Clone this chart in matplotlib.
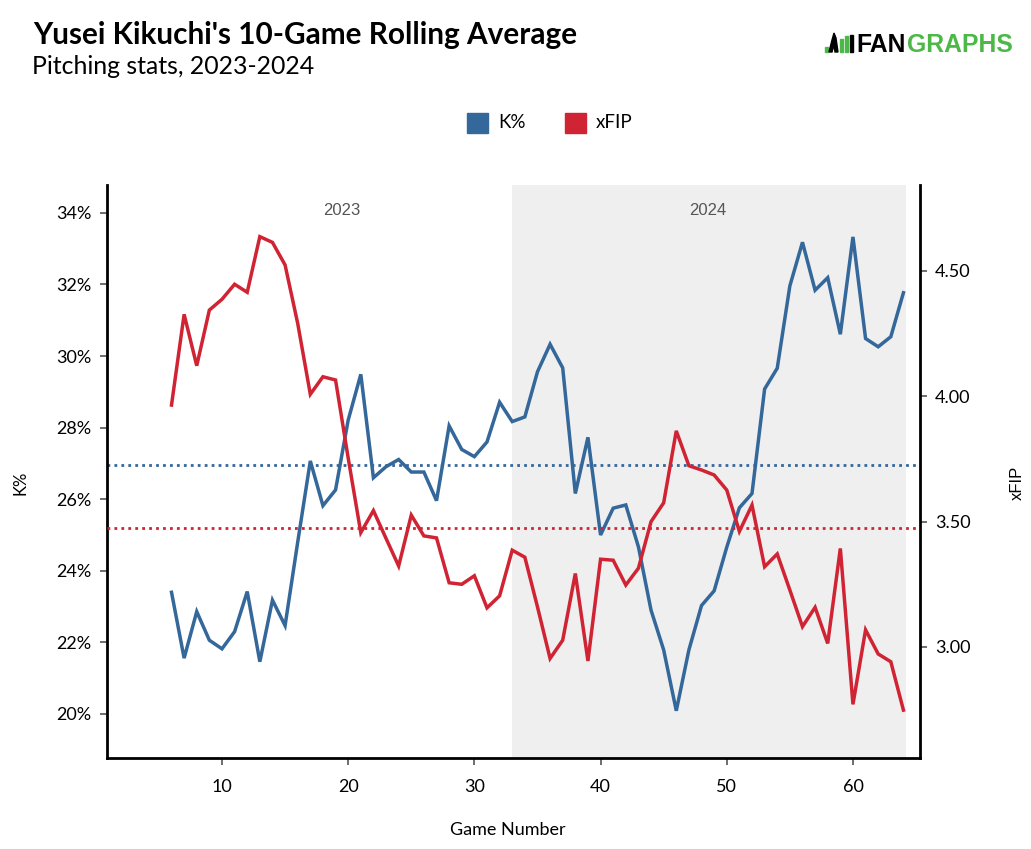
import matplotlib
matplotlib.use("Agg")
import matplotlib.pyplot as plt
from matplotlib.ticker import FuncFormatter, FixedLocator
from matplotlib.patches import Rectangle, Polygon

# ---------------- data ----------------
games = list(range(6, 65))
k_pct = [23.40, 21.56, 22.86, 22.06, 21.82, 22.30, 23.42, 21.46, 23.18, 22.47,
         24.80, 27.07, 25.82, 26.26, 28.21, 29.49, 26.60, 26.91, 27.11, 26.76,
         26.76, 25.96, 28.05, 27.39, 27.19, 27.60, 28.71, 28.17, 28.30, 29.56,
         30.33, 29.67, 26.16, 27.73, 25.00, 25.75, 25.84, 24.67, 22.90, 21.79,
         20.09, 21.79, 23.03, 23.44, 24.66, 25.76, 26.16, 29.08, 29.66, 31.96,
         33.18, 31.84, 32.19, 30.61, 33.33, 30.49, 30.26, 30.54, 31.77]
xfip = [3.965, 4.327, 4.122, 4.344, 4.387, 4.447, 4.415, 4.637, 4.614, 4.524,
        4.291, 4.008, 4.078, 4.065, 3.754, 3.456, 3.544, 3.433, 3.323, 3.526,
        3.443, 3.435, 3.256, 3.250, 3.284, 3.156, 3.204, 3.386, 3.358, 3.160,
        2.954, 3.027, 3.293, 2.944, 3.350, 3.346, 3.247, 3.314, 3.500, 3.575,
        3.862, 3.723, 3.706, 3.686, 3.626, 3.461, 3.566, 3.320, 3.371, 3.227,
        3.081, 3.158, 3.014, 3.393, 2.771, 3.068, 2.972, 2.941, 2.748]
k_mean = 26.96
xfip_mean = 3.476
season_labels = ["2023", "2024"]
season_bounds = [6, 33, 64]
x_ticks = [10, 20, 30, 40, 50, 60]
k_ticks = [20, 22, 24, 26, 28, 30, 32, 34]
xfip_ticks = [3.0, 3.5, 4.0, 4.5]

BLUE = "#34679a"
RED = "#d02333"
SHADE = "#efefef"
GREEN = "#4cb848"
FONT = "Lato"
W, H = 1031, 849


def fx(px):
    return px / W


def fy(py):
    return 1 - py / H


fig = plt.figure(figsize=(10.31, 8.49), dpi=100)
ax = fig.add_axes([0.1038, 0.1072, 0.7885, 0.6749])
ax2 = ax.twinx()

ax.set_xlim(0.89, 65.31)
ax.set_ylim(18.77, 34.78)
ax2.set_ylim(2.557, 4.843)

# season shading + labels
ax.axvspan(season_bounds[1], season_bounds[2] + 0.2, color=SHADE, zorder=0, lw=0)
for i, lab in enumerate(season_labels):
    mid = (season_bounds[i] + season_bounds[i + 1]) / 2
    ax.text(mid, 0.955, lab, transform=ax.get_xaxis_transform(), ha="center",
            va="center", fontsize=12, color="#555555", family="Liberation Sans")

# mean lines
ax.axhline(k_mean, color=BLUE, ls=(0, (1, 1.5)), lw=2, zorder=1)
ax2.axhline(xfip_mean, color=RED, ls=(0, (1, 1.5)), lw=2, zorder=1)

ax.plot(games, k_pct, color=BLUE, lw=2.5, zorder=3, solid_joinstyle="miter")
ax2.plot(games, xfip, color=RED, lw=2.5, zorder=3, solid_joinstyle="miter")

# axes styling
for a in (ax, ax2):
    a.spines["top"].set_visible(False)
    for s in ("left", "right", "bottom"):
        a.spines[s].set_linewidth(2)
        a.spines[s].set_color("black")
ax.spines["right"].set_visible(False)
ax2.spines["left"].set_visible(False)
ax2.spines["bottom"].set_visible(False)

ax.xaxis.set_major_locator(FixedLocator(x_ticks))
ax.yaxis.set_major_locator(FixedLocator(k_ticks))
ax2.yaxis.set_major_locator(FixedLocator(xfip_ticks))
ax.yaxis.set_major_formatter(FuncFormatter(lambda v, p: f"{v:.0f}%"))
ax2.yaxis.set_major_formatter(FuncFormatter(lambda v, p: f"{v:.2f}"))

for a in (ax, ax2):
    a.tick_params(axis="both", labelsize=13, length=5, width=1.2,
                  color="#555555", pad=6)
    for lbl in a.get_xticklabels() + a.get_yticklabels():
        lbl.set_family(FONT)
ax.tick_params(axis="x", pad=10)

ax.set_xlabel("Game Number", fontsize=13, family=FONT)
ax.set_ylabel("K%", fontsize=12, family=FONT)
ax2.set_ylabel("xFIP", fontsize=12, family="Liberation Sans")
ax.xaxis.set_label_coords(0.493, -0.111)
ax.yaxis.set_label_coords(-0.097, 0.48)
ax2.yaxis.set_label_coords(1.11, 0.48)

# title / subtitle
fig.text(0.032, 0.948, "Yusei Kikuchi's 10-Game Rolling Average", fontsize=21.4,
         fontweight="bold", family=FONT, va="baseline", ha="left")
fig.text(0.031, 0.913, "Pitching stats, 2023-2024", fontsize=17.9,
         family=FONT, va="baseline", ha="left")

# legend
fig.patches.append(Rectangle((fx(467), fy(133)), 20.5 / W, 20.5 / H,
                             transform=fig.transFigure, color=BLUE))
fig.text(fx(498), fy(123), "K%", fontsize=13.5, family=FONT,
         va="center", ha="left")
fig.patches.append(Rectangle((fx(565), fy(133)), 20.5 / W, 20.5 / H,
                             transform=fig.transFigure, color=RED))
fig.text(fx(596), fy(123), "xFIP", fontsize=13.5, family=FONT,
         va="center", ha="left")

# FanGraphs logo
logo_bars = [(825, 47, 3, 5, GREEN), (840, 39, 3, 13, GREEN),
             (845, 36, 3, 16, GREEN), (850, 35, 3, 17, "black")]
for bx, by, bw, bh, c in logo_bars:
    fig.patches.append(Rectangle((fx(bx), fy(by + bh)), bw / W, bh / H,
                                 transform=fig.transFigure, color=c))
fig.patches.append(Polygon([(fx(829), fy(52)), (fx(832), fy(40)), (fx(834), fy(33)),
                            (fx(836), fy(38)), (fx(838), fy(52)), (fx(835), fy(52)),
                            (fx(834), fy(45)), (fx(832), fy(52))],
                           closed=True, transform=fig.transFigure, color="black"))
t_fan = fig.text(fx(856), fy(52), "FAN", fontsize=17.8, fontweight="bold",
                 family="Liberation Sans", color="black", va="baseline", ha="left")
fig.add_artist(matplotlib.text.Annotation(
    "GRAPHS", xy=(1, 0), xycoords=t_fan, xytext=(1, 0), textcoords="offset points",
    fontsize=17.8, fontweight="bold", family="Liberation Sans", color=GREEN,
    va="bottom", ha="left"))

fig.savefig("out.png", dpi=100)
